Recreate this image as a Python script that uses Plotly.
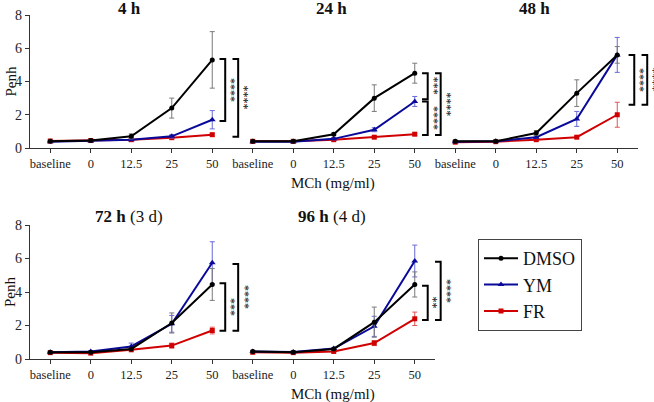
import plotly.graph_objects as go

# ---------------- data ----------------
categories = ["baseline", "0", "12.5", "25", "50"]
panel_titles = ["<b>4 h</b>", "<b>24 h</b>", "<b>48 h</b>", "<b>72 h</b> (3 d)", "<b>96 h</b> (4 d)"]

dmso_mean = [
    [0.40, 0.45, 0.70, 2.40, 5.30],
    [0.40, 0.40, 0.83, 3.00, 4.50],
    [0.40, 0.40, 0.90, 3.30, 5.60],
    [0.40, 0.40, 0.60, 2.15, 4.45],
    [0.45, 0.40, 0.60, 2.20, 4.45],
]
dmso_err = [
    [0.03, 0.05, 0.15, 0.60, 1.70],
    [0.03, 0.04, 0.08, 0.80, 0.60],
    [0.03, 0.04, 0.15, 0.80, 0.50],
    [0.03, 0.04, 0.08, 0.60, 0.95],
    [0.03, 0.04, 0.06, 0.90, 0.75],
]
ym_mean = [
    [0.38, 0.42, 0.50, 0.70, 1.70],
    [0.38, 0.38, 0.55, 1.10, 2.80],
    [0.38, 0.40, 0.65, 1.75, 5.60],
    [0.40, 0.45, 0.75, 2.10, 5.75],
    [0.45, 0.42, 0.62, 1.95, 5.85],
]
ym_err = [
    [0.03, 0.04, 0.05, 0.10, 0.55],
    [0.03, 0.03, 0.05, 0.12, 0.30],
    [0.03, 0.03, 0.08, 0.45, 1.05],
    [0.03, 0.05, 0.20, 0.50, 1.25],
    [0.03, 0.03, 0.05, 0.60, 0.95],
]
fr_mean = [
    [0.42, 0.45, 0.50, 0.62, 0.80],
    [0.40, 0.40, 0.50, 0.65, 0.83],
    [0.35, 0.38, 0.50, 0.65, 2.00],
    [0.38, 0.35, 0.55, 0.80, 1.70],
    [0.40, 0.38, 0.45, 0.95, 2.40],
]
fr_err = [
    [0.03, 0.04, 0.05, 0.06, 0.08],
    [0.03, 0.03, 0.04, 0.06, 0.08],
    [0.03, 0.03, 0.04, 0.06, 0.75],
    [0.03, 0.03, 0.05, 0.15, 0.20],
    [0.03, 0.03, 0.04, 0.15, 0.40],
]
# significance brackets per panel: (top value, bottom value, label, level)
brackets = [
    [(5.36, 1.63, "****", 0), (5.36, 0.68, "****", 1)],
    [(4.50, 2.93, "***", 0), (2.79, 0.78, "****", 0), (4.50, 0.78, "****", 1)],
    [(5.60, 2.60, "****", 0), (5.60, 2.60, "****", 1)],
    [(4.52, 1.69, "***", 0), (5.67, 1.69, "****", 1)],
    [(4.38, 2.33, "**", 0), (5.81, 2.33, "****", 1)],
]
y_ticks = [0, 2, 4, 6, 8]

# ---------------- layout geometry ----------------
W, H = 654, 402
FONT = "Liberation Serif"
col_px = [(30, 232.5), (232.5, 435), (435, 637.5)]
row_px = [(15, 148), (225, 359)]
title_px = [9, 216]
panel_pos = [(0, 0), (0, 1), (0, 2), (1, 0), (1, 1)]
bracket_shift = [0.0, 0.0, 0.1, 0.0, 0.0]

series = [
    ("FR", fr_mean, fr_err, "#d00000", "#e05555", "square", 5),
    ("YM", ym_mean, ym_err, "#0a0a9a", "#6a6ad8", "triangle-up", 6),
    ("DMSO", dmso_mean, dmso_err, "#000000", "#7a7a7a", "circle", 5),
]
rank = {"DMSO": 1, "YM": 2, "FR": 3}

fig = go.Figure()
xs = list(range(len(categories)))
shapes = []
annotations = []

for p, (r, c) in enumerate(panel_pos):
    k = p + 1
    xa = "x" if k == 1 else f"x{k}"
    ya = "y" if k == 1 else f"y{k}"
    xd = [col_px[c][0] / W, col_px[c][1] / W]
    yd = [1 - row_px[r][1] / H, 1 - row_px[r][0] / H]
    for name, mean, err, col, ecol, sym, ms in series:
        fig.add_trace(go.Scatter(
            x=xs, y=mean[p], mode="lines+markers", name=name,
            line=dict(color=col, width=2),
            marker=dict(symbol=sym, size=ms, color=col),
            error_y=dict(type="data", array=err[p], color=ecol, thickness=1, width=2.5),
            xaxis=xa, yaxis=ya, showlegend=(p == 0), legendrank=rank[name],
            cliponaxis=False,
        ))
    axkey = "xaxis" if k == 1 else f"xaxis{k}"
    aykey = "yaxis" if k == 1 else f"yaxis{k}"
    fig.layout[axkey] = dict(
        domain=xd, anchor=ya, range=[-0.5, 4.5], tickvals=xs, ticktext=categories,
        showline=True, linecolor="#333", linewidth=1.3, ticks="outside", ticklen=4,
        tickcolor="#333", showgrid=False, zeroline=False, automargin=False,
        tickfont=dict(family=FONT, size=12.5, color="#222"),
    )
    fig.layout[aykey] = dict(
        domain=yd, anchor=xa, range=[0, 8], tickvals=y_ticks,
        showline=(c == 0), showticklabels=(c == 0), ticks="outside" if c == 0 else "",
        linecolor="#333", linewidth=1.3, ticklen=4, tickcolor="#333",
        showgrid=False, zeroline=False, automargin=False,
        tickfont=dict(family=FONT, size=14, color="#222"),
    )

    def px_x(v, xd=xd):
        return xd[0] + (v + 0.5) / 5 * (xd[1] - xd[0])

    def px_y(v, yd=yd):
        return yd[0] + v / 8 * (yd[1] - yd[0])

    # panel title
    annotations.append(dict(
        text=panel_titles[p], x=(xd[0] + xd[1]) / 2 - 2 / W, y=1 - title_px[r] / H,
        xref="paper", yref="paper", xanchor="center", yanchor="middle",
        showarrow=False, font=dict(family=FONT, size=17, color="#111"),
    ))
    # brackets
    for top, bot, lab, lev in brackets[p]:
        base = 4 + bracket_shift[p]
        vx = base + (0.32 if lev == 0 else 0.64)
        tx = base + (0.18 if lev == 0 else 0.50)
        lx = base + (0.46 if lev == 0 else 0.79)
        y0, y1 = px_y(bot), px_y(top)
        shapes.append(dict(
            type="path", xref="paper", yref="paper",
            path=f"M {px_x(tx)},{y1} L {px_x(vx)},{y1} L {px_x(vx)},{y0} L {px_x(tx)},{y0}",
            line=dict(color="black", width=2),
        ))
        annotations.append(dict(
            text=lab, x=px_x(lx), y=(y0 + y1) / 2, xref="paper", yref="paper",
            xanchor="center", yanchor="middle", textangle=90, showarrow=False,
            font=dict(family=FONT, size=12, color="#111"),
        ))

# axis titles
for r in range(2):
    y0 = 1 - row_px[r][1] / H
    y1 = 1 - row_px[r][0] / H
    annotations.append(dict(
        text="Penh", x=10 / W, y=(y0 + y1) / 2, xref="paper", yref="paper",
        xanchor="center", yanchor="middle", textangle=-90, showarrow=False,
        font=dict(family=FONT, size=15, color="#111"),
    ))
    annotations.append(dict(
        text="MCh (mg/ml)", x=333 / W, y=y0 - 35 / H, xref="paper", yref="paper",
        xanchor="center", yanchor="middle", showarrow=False,
        font=dict(family=FONT, size=15, color="#111"),
    ))

fig.update_layout(
    width=W, height=H, margin=dict(l=0, r=0, t=0, b=0, autoexpand=False),
    paper_bgcolor="white", plot_bgcolor="white",
    shapes=shapes, annotations=annotations,
    legend=dict(
        x=478 / W, y=1 - 239 / H, xanchor="left", yanchor="top",
        bordercolor="#444", borderwidth=1, bgcolor="white", itemwidth=34,
        font=dict(family=FONT, size=18, color="#111"),
    ),
)

fig.write_html(
    "out.html",
    config={"displayModeBar": False},
    post_script="document.body.style.margin='0';document.body.style.overflow='hidden';",
)
